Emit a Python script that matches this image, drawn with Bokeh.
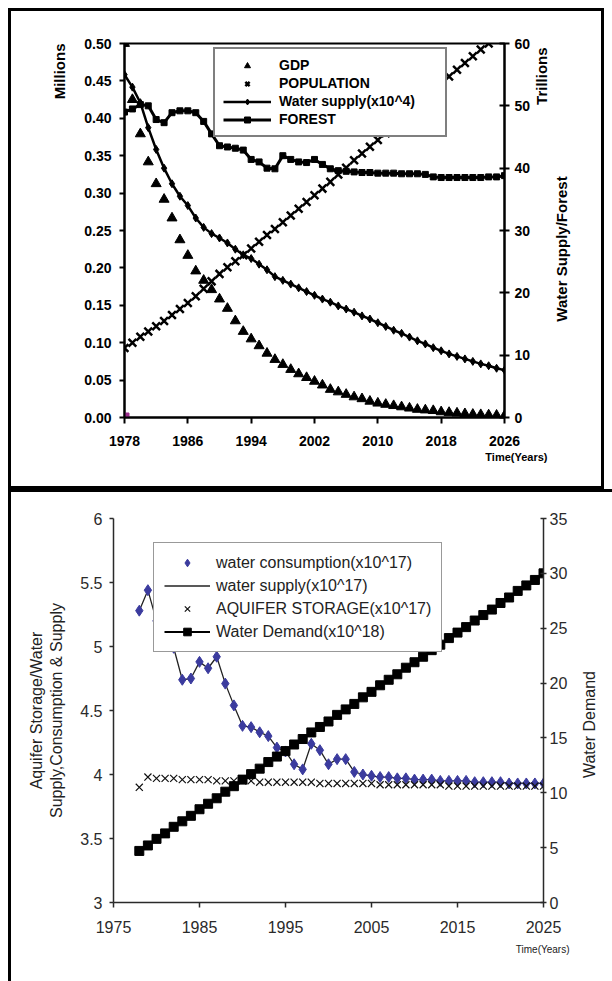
import math
from bokeh.plotting import figure
from bokeh.models import (LinearAxis, Range1d, Legend, LegendItem, Title,
                          FixedTicker, NumeralTickFormatter)
from bokeh.layouts import column
from bokeh.embed import file_html
from bokeh.resources import INLINE

FONT = "Liberation Sans"

# ---------------- top panel data ----------------
top_years = list(range(1978, 2027))
gdp = [60.0, 51.0, 45.5, 41.0, 37.5, 35.0, 32.0, 28.5, 26.0, 23.5,
       22.0, 20.5, 19.0, 17.5, 15.5, 13.8, 12.6, 11.5, 10.3, 9.3,
       8.5, 7.7, 7.0, 6.4, 5.8, 5.2, 4.5, 4.1, 3.7, 3.3,
       3.0, 2.6, 2.3, 2.1, 1.9, 1.7, 1.5, 1.3, 1.2, 1.1,
       0.9, 0.8, 0.7, 0.6, 0.5, 0.45, 0.4, 0.35, 0.3]
water_supply_top = [55.0, 53.0, 50.5, 46.5, 43.0, 40.0, 37.5, 35.5, 34.0, 32.0,
                    30.5, 29.5, 28.8, 28.0, 27.0, 26.1, 25.5, 24.6, 23.7, 22.6,
                    22.0, 21.4, 20.8, 20.2, 19.6, 19.0, 18.5, 17.9, 17.4, 16.9,
                    16.3, 15.8, 15.2, 14.6, 14.0, 13.5, 12.9, 12.3, 11.8, 11.2,
                    10.7, 10.2, 9.8, 9.4, 9.0, 8.6, 8.3, 7.9, 7.6]
forest = [49.0, 49.5, 50.2, 50.0, 47.8, 47.3, 48.9, 49.2, 49.2, 48.9,
          47.5, 45.5, 43.6, 43.4, 43.2, 42.9, 41.4, 41.0, 40.0, 39.9,
          42.0, 41.4, 41.0, 40.9, 41.4, 40.6, 39.9, 39.6, 39.5, 39.4,
          39.3, 39.3, 39.2, 39.2, 39.2, 39.1, 39.1, 39.1, 39.0, 38.6,
          38.5, 38.5, 38.5, 38.5, 38.5, 38.5, 38.6, 38.6, 38.8]
population_years = list(range(1978, 2025))
population = [0.093, 0.100, 0.108, 0.115, 0.122, 0.129, 0.137, 0.145, 0.153, 0.162,
              0.172, 0.182, 0.192, 0.201, 0.209, 0.217, 0.226, 0.235, 0.244, 0.252,
              0.261, 0.270, 0.279, 0.288, 0.297, 0.306, 0.315, 0.325, 0.334, 0.344,
              0.353, 0.362, 0.371, 0.380, 0.390, 0.399, 0.408, 0.418, 0.428, 0.437,
              0.447, 0.456, 0.465, 0.474, 0.483, 0.492, 0.500]
origin_year = [1978]
origin_value = [0.0]

top_xticks = [1978, 1986, 1994, 2002, 2010, 2018, 2026]
top_left_ticks = [0.0, 0.05, 0.10, 0.15, 0.20, 0.25, 0.30, 0.35, 0.40, 0.45, 0.50]
top_right_ticks = [0, 10, 20, 30, 40, 50, 60]

# ---------------- bottom panel data ----------------
bottom_years = list(range(1978, 2026))
consumption = [5.28, 5.44, 5.20, 5.00, 4.99, 4.74, 4.75, 4.88, 4.83, 4.92,
               4.71, 4.54, 4.38, 4.37, 4.33, 4.30, 4.21, 4.18, 4.08, 4.04,
               4.24, 4.19, 4.08, 4.12, 4.12, 4.02, 4.00, 3.99, 3.98, 3.98,
               3.97, 3.97, 3.96, 3.96, 3.96, 3.95, 3.95, 3.95, 3.95, 3.94,
               3.94, 3.94, 3.94, 3.93, 3.93, 3.93, 3.93, 3.93]
supply = [5.28, 5.44, 5.20, 5.00, 4.99, 4.74, 4.75, 4.88, 4.83, 4.92,
          4.71, 4.54, 4.38, 4.37, 4.33, 4.30, 4.21, 4.18, 4.08, 4.04,
          4.24, 4.19, 4.08, 4.12, 4.12, 4.02, 4.00, 3.99, 3.98, 3.98,
          3.97, 3.97, 3.96, 3.96, 3.96, 3.95, 3.95, 3.95, 3.95, 3.94,
          3.94, 3.94, 3.94, 3.93, 3.93, 3.93, 3.93, 3.93]
aquifer = [3.90, 3.98, 3.97, 3.97, 3.97, 3.96, 3.96, 3.96, 3.96, 3.95,
           3.95, 3.95, 3.95, 3.95, 3.94, 3.94, 3.94, 3.94, 3.94, 3.94,
           3.94, 3.93, 3.93, 3.93, 3.93, 3.93, 3.93, 3.93, 3.92, 3.92,
           3.92, 3.92, 3.92, 3.92, 3.92, 3.92, 3.91, 3.91, 3.91, 3.91,
           3.91, 3.91, 3.91, 3.91, 3.91, 3.91, 3.91, 3.91]
demand = [4.7, 5.2, 5.8, 6.3, 6.9, 7.4, 7.9, 8.5, 9.0, 9.5,
          10.1, 10.6, 11.2, 11.7, 12.2, 12.8, 13.3, 13.8, 14.4, 14.9,
          15.5, 16.0, 16.5, 17.1, 17.6, 18.1, 18.7, 19.2, 19.8, 20.3,
          20.8, 21.4, 21.9, 22.4, 23.0, 23.5, 24.1, 24.6, 25.1, 25.7,
          26.2, 26.7, 27.3, 27.8, 28.4, 28.9, 29.4, 30.0]

bottom_xticks = [1975, 1985, 1995, 2005, 2015, 2025]
bottom_left_ticks = [3, 3.5, 4, 4.5, 5, 5.5, 6]
bottom_right_ticks = [0, 5, 10, 15, 20, 25, 30, 35]

NBSP = "\u00a0"


def try_set(obj, name, *values):
    for v in values:
        try:
            setattr(obj, name, v)
            return True
        except Exception:
            pass
    return False


def style_axis(ax, size, bold, color, lw, tick_in, tick_out, standoff):
    ax.axis_line_color = color
    ax.axis_line_width = lw
    ax.major_tick_line_color = color
    ax.major_tick_line_width = lw
    ax.major_tick_in = tick_in
    ax.major_tick_out = tick_out
    ax.minor_tick_line_color = None
    ax.major_label_text_font = FONT
    ax.major_label_text_font_size = size
    ax.major_label_text_font_style = "bold" if bold else "normal"
    ax.major_label_text_color = color
    ax.major_label_standoff = standoff


def style_axis_label(ax, text, size, bold, color, standoff):
    ax.axis_label = text
    ax.axis_label_text_font = FONT
    ax.axis_label_text_font_size = size
    ax.axis_label_text_font_style = "bold" if bold else "normal"
    ax.axis_label_text_color = color
    ax.axis_label_standoff = standoff


def upward_right_title(ax, pad_count):
    # right-hand title reading bottom-to-top, starting from the bottom end of the axis
    try_set(ax, "axis_label_orientation", math.pi / 2)
    try_set(ax, "axis_label_align", "start", "left")
    ax.axis_label = NBSP * pad_count + ax.axis_label


# ================= TOP PANEL =================
top = figure(width=596, height=481, x_range=Range1d(1978, 2026), y_range=Range1d(0, 0.5),
             output_backend="svg", toolbar_location=None,
             min_border_left=116, min_border_right=100, min_border_top=35, min_border_bottom=72,
             margin=(8, 8, 0, 8), border_fill_color=None, background_fill_color="white",
             outline_line_color="black", outline_line_width=2,
             styles={"box-shadow": "inset 0 0 0 3px #000", "background-color": "#fff"})
try_set(top, "frame_align", False)
top.extra_y_ranges = {"right": Range1d(0, 60)}
top.xgrid.visible = False
top.ygrid.visible = False

top.xaxis[0].ticker = FixedTicker(ticks=top_xticks)
style_axis(top.xaxis[0], "14px", True, "black", 2, 0, 6, 12)
top.yaxis[0].ticker = FixedTicker(ticks=top_left_ticks)
top.yaxis[0].formatter = NumeralTickFormatter(format="0.00")
style_axis(top.yaxis[0], "14px", True, "black", 2, 0, 5, 8)

# inner right axis: ticks + "Trillions" near the top end
top_right = LinearAxis(y_range_name="right", ticker=FixedTicker(ticks=top_right_ticks))
style_axis(top_right, "14px", True, "black", 2, 5, 5, 5)
style_axis_label(top_right, "Trillions", "15px", True, "black", 8)
upward_right_title(top_right, 75)
top.add_layout(top_right, "right")

# outer right title: "Water Supply/Forest"
top_right2 = LinearAxis(y_range_name="right", ticker=FixedTicker(ticks=[]))
top_right2.axis_line_color = None
top_right2.major_tick_line_color = None
top_right2.minor_tick_line_color = None
top_right2.major_label_text_font_size = "0px"
style_axis_label(top_right2, "Water Supply/Forest", "15px", True, "black", 0)
upward_right_title(top_right2, 23)
top.add_layout(top_right2, "right")

top.add_layout(Title(text="Millions", align="right", text_font=FONT, text_font_size="15px",
                     text_font_style="bold", text_color="black", standoff=28), "left")
top.add_layout(Title(text="Time(Years)", align="right", offset=-43, text_font=FONT,
                     text_font_size="11px", text_font_style="bold", text_color="black",
                     standoff=0), "below")

forest_line = top.line(top_years, forest, y_range_name="right", line_color="black", line_width=3)
forest_pts = top.scatter(top_years, forest, y_range_name="right", marker="square", size=6, color="black")
ws_line = top.line(top_years, water_supply_top, y_range_name="right", line_color="black", line_width=2.5)
ws_pts = top.scatter(top_years, water_supply_top, y_range_name="right", marker="diamond", size=8, color="black")
gdp_r = top.scatter(top_years, gdp, y_range_name="right", marker="triangle", size=10, color="black")
pop_r = top.scatter(population_years, population, marker="x", size=11, line_color="black", line_width=2.5)
top.scatter(origin_year, origin_value, marker="square", size=9, color="#9a2d8c")

leg_top = Legend(items=[LegendItem(label="GDP", renderers=[gdp_r]),
                        LegendItem(label="POPULATION", renderers=[pop_r]),
                        LegendItem(label="Water supply(x10^4)", renderers=[ws_line, ws_pts]),
                        LegendItem(label="FOREST", renderers=[forest_line, forest_pts])],
                 location=(89, 280), orientation="vertical", margin=0, padding=8, spacing=2,
                 glyph_width=48, glyph_height=15, label_height=15, label_width=158, label_standoff=8,
                 label_text_font=FONT, label_text_font_size="14px", label_text_font_style="bold",
                 label_text_color="black", border_line_color="black", border_line_width=2.5,
                 background_fill_color="white", background_fill_alpha=1)
top.add_layout(leg_top)

# ================= BOTTOM PANEL =================
AX = "#2a2a2a"
bot = figure(width=604, height=492, x_range=Range1d(1975, 2025), y_range=Range1d(3, 6),
             output_backend="svg", toolbar_location=None,
             min_border_left=105, min_border_right=69, min_border_top=29, min_border_bottom=79,
             margin=(0, 0, 0, 8), border_fill_color=None, background_fill_color="white",
             outline_line_color=None,
             styles={"box-shadow": "inset 3px 3px 0 0 #000", "background-color": "#fff"})
try_set(bot, "frame_align", False)
bot.extra_y_ranges = {"right": Range1d(0, 35)}
bot.xgrid.visible = False
bot.ygrid.visible = False

bot.xaxis[0].ticker = FixedTicker(ticks=bottom_xticks)
style_axis(bot.xaxis[0], "16px", False, AX, 1.5, 0, 5, 13)
bot.yaxis[0].ticker = FixedTicker(ticks=bottom_left_ticks)
bot.yaxis[0].formatter = NumeralTickFormatter(format="0.[0]")
style_axis(bot.yaxis[0], "16px", False, AX, 1.5, 0, 4, 7)
style_axis_label(bot.yaxis[0], "Aquifer Storage/Water\nSupply,Consumption & Supply",
                 "16px", False, "#222222", 12)

bot_right = LinearAxis(y_range_name="right", ticker=FixedTicker(ticks=bottom_right_ticks))
style_axis(bot_right, "16px", False, AX, 1.5, 3, 3, 3)
style_axis_label(bot_right, "Water Demand", "16px", False, "#222222", 19)
upward_right_title(bot_right, 28)
bot.add_layout(bot_right, "right")

bot.add_layout(Title(text="Time(Years)", align="right", offset=-26, text_font=FONT,
                     text_font_size="10px", text_font_style="normal", text_color="#222222",
                     standoff=12), "below")

supply_r = bot.line(bottom_years, supply, line_color="#222222", line_width=1.3)
cons_r = bot.scatter(bottom_years, consumption, marker="diamond", size=11, color="#3b3b9e")
aq_r = bot.scatter(bottom_years, aquifer, marker="x", size=10, line_color="#111111", line_width=1.2)
dem_line = bot.line(bottom_years, demand, y_range_name="right", line_color="black", line_width=2)
dem_pts = bot.scatter(bottom_years, demand, y_range_name="right", marker="square", size=9, color="black")

leg_bot = Legend(items=[LegendItem(label="water consumption(x10^17)", renderers=[cons_r]),
                        LegendItem(label="water supply(x10^17)", renderers=[supply_r]),
                        LegendItem(label="AQUIFER STORAGE(x10^17)", renderers=[aq_r]),
                        LegendItem(label="Water Demand(x10^18)", renderers=[dem_line, dem_pts])],
                 location=(40, 250), orientation="vertical", margin=0, padding=10, spacing=4,
                 glyph_width=46, glyph_height=19, label_height=19, label_width=212, label_standoff=6,
                 label_text_font=FONT, label_text_font_size="16px", label_text_color="#222222",
                 border_line_color="#333333", border_line_width=1.5,
                 background_fill_color="white", background_fill_alpha=1)
bot.add_layout(leg_bot)

layout = column(top, bot, spacing=0)
open("out.html", "w").write(file_html(layout, INLINE))
